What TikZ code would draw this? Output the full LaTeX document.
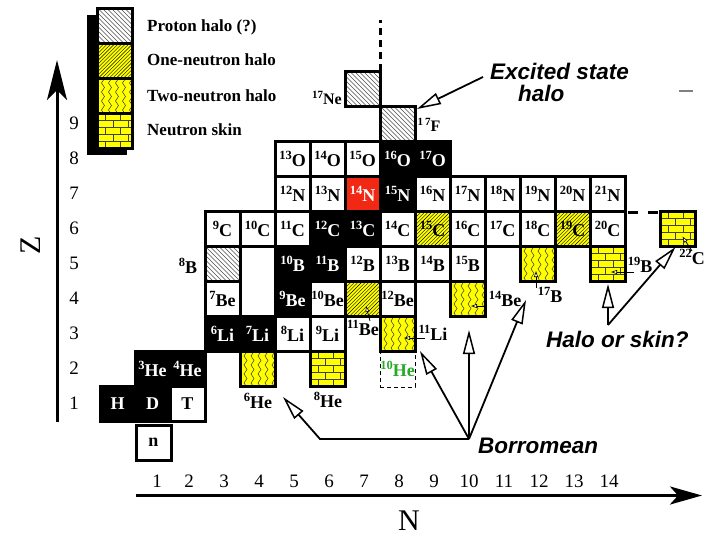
\documentclass[tikz,border=0pt]{standalone}
\usepackage{fontspec}
\setmainfont{Liberation Serif}
\setsansfont{Liberation Sans}
\usetikzlibrary{arrows.meta}

\definecolor{nred}{RGB}{240,40,20}
\definecolor{nyellow}{RGB}{255,255,0}
\definecolor{ngreen}{RGB}{40,170,40}

\newcommand\cellfont{\fontsize{18}{18}\selectfont\bfseries}
\newcommand\smallcellfont{\fontsize{16}{16}\selectfont\bfseries}
\newcommand\iso[2]{\raisebox{7pt}{\fontsize{12.5}{12.5}\selectfont #1}#2}
\newcommand\isosm[2]{\raisebox{6pt}{\fontsize{11}{11}\selectfont #1}#2}
\newcommand\calloutfont{\sffamily\bfseries\itshape\fontsize{22.5}{24}\selectfont}
% a nuclide box placed by neutron number N (#3) and proton number Z (#4)
\newcommand\nuc[5]{\node[#1] (#2) at ({117.5+35*#3},{438.5-35*#4}) {#5};}

\tikzset{
  nucbox/.style={draw=black, line width=3pt, minimum width=35pt, minimum height=35pt,
    inner sep=0pt, outer sep=0pt, fill=white, text=black, font=\cellfont},
  plain/.style={nucbox},
  stable/.style={nucbox, fill=black, text=white},
  redbox/.style={nucbox, fill=nred, text=white},
  phalo/.style={nucbox, path picture={
    \foreach \k in {-36,-31.5,...,36}
      \draw[black!70, line width=0.5pt]
        (path picture bounding box.north west) ++(\k,0) -- ++(36,36);}},
  onehalo/.style={nucbox, fill=nyellow, path picture={
    \foreach \k in {0,3.6,...,72}
      \draw[black, line width=0.4pt]
        (path picture bounding box.north west) ++(\k,0) -- ++(-36,36);}},
  twohalo/.style={nucbox, fill=nyellow, path picture={
    \foreach \i in {0,...,4}
      \draw[black!80, line width=0.5pt]
        (path picture bounding box.north west) ++({4+7*\i},-4)
        \foreach \k in {1,...,5}{ -- ++(3,4.5) -- ++(-3,4.5)};}},
  skin/.style={nucbox, fill=nyellow, path picture={
    \foreach \r in {1,...,4}
      \draw[black!75, line width=0.7pt] (path picture bounding box.north west) ++(0,7*\r) -- ++(36,0);
    \foreach \r in {0,2,4} \foreach \m in {8,23}
      \draw[black!75, line width=0.7pt] (path picture bounding box.north west) ++(\m,7*\r) -- ++(0,7);
    \foreach \r in {1,3} \foreach \m in {0.5,15.5,30.5}
      \draw[black!75, line width=0.7pt] (path picture bounding box.north west) ++(\m,7*\r) -- ++(0,7);}},
  outlabel/.style={inner sep=0pt, font=\cellfont},
  legendtext/.style={inner sep=0pt, font=\fontsize{17}{17}\selectfont\bfseries},
  axisnum/.style={inner sep=0pt, font=\fontsize{19}{19}\selectfont},
  axisline/.style={line width=3pt},
  callout/.style={inner sep=0pt, font=\calloutfont},
  bigarrow/.style={line width=1.8pt, line join=miter,
    -{Triangle[length=24pt, width=12pt, fill=white, line width=1.5pt]}},
  leader/.style={line width=0.8pt, -{Triangle[length=6pt, width=4pt, fill=white, line width=0.6pt]}},
  dashline/.style={line width=3pt},
}

\begin{document}
\begin{tikzpicture}[x=1pt, y=-1pt]
\useasboundingbox (0,0) rectangle (706,536);
\clip (0,0) rectangle (706,536);

% ---------- legend ----------
\fill (87,15) rectangle (127,155);
\node[phalo]   (lgp) at (115,25.5)  {};
\node[onehalo] (lg1) at (115,60.5)  {};
\node[twohalo] (lg2) at (115,95.5)  {};
\node[skin]    (lgs) at (115,130.5) {};
\node[legendtext, anchor=base west] (ltp) at (147,31)  {Proton halo (?)};
\node[legendtext, anchor=base west] (lt1) at (147,65)  {One-neutron halo};
\node[legendtext, anchor=base west] (lt2) at (147,101) {Two-neutron halo};
\node[legendtext, anchor=base west] (lts) at (147,135) {Neutron skin};

% ---------- axes ----------
\coordinate (zbot) at (57,422);
\coordinate (ztop) at (57,60);
\draw[axisline, -{Stealth[length=40pt, width=20pt, inset=10pt]}] (zbot) -- (ztop);
\coordinate (nleft) at (136,495.5);
\coordinate (nright) at (702,495.5);
\draw[axisline, -{Stealth[length=32pt, width=18pt, inset=8pt]}] (nleft) -- (nright);
\node[rotate=90, inner sep=0pt, font=\fontsize{30}{30}\selectfont] (zlab) at (31,245) {Z};
\node[inner sep=0pt, font=\fontsize{30}{30}\selectfont] (nlab) at (409,521) {N};
\foreach \i in {1,...,9}
  \node[axisnum] (zn\i) at (74,{438.5-35*\i}) {\i};
\node[axisnum] (nn1) at (157,481) {1};
\node[axisnum] (nn2) at (189,481) {2};
\foreach \i in {3,...,14}
  \node[axisnum] (nn\i) at ({119+35*\i},481) {\i};

% ---------- nuclide boxes ----------
% Z = 0, 1
\node[plain] (n) at (153.5,442.5) {n};
\nuc{stable}{H}{0}{1}{H}
\nuc{stable}{D}{1}{1}{D}
\nuc{plain}{T}{2}{1}{T}
% Z = 2
\nuc{stable}{He3}{1}{2}{\iso{3}{He}}
\nuc{stable}{He4}{2}{2}{\iso{4}{He}}
\nuc{twohalo}{He6}{4}{2}{}
\nuc{skin}{He8}{6}{2}{}
\node[draw, line width=1pt, dash pattern=on 4pt off 3pt, minimum width=35pt, minimum height=36pt,
  inner sep=0pt, text=ngreen, font=\cellfont] (He10) at (397.5,369) {\iso{10}{He}};
% Z = 3
\nuc{stable}{Li6}{3}{3}{\iso{6}{Li}}
\nuc{stable}{Li7}{4}{3}{\iso{7}{Li}}
\nuc{plain}{Li8}{5}{3}{\iso{8}{Li}}
\nuc{plain}{Li9}{6}{3}{\iso{9}{Li}}
\nuc{twohalo}{Li11}{8}{3}{}
% Z = 4, 5 (one open box spans both rows at N = 4)
\nuc{plain}{Be7}{3}{4}{\iso{7}{Be}}
\node[nucbox, minimum height=70pt] (gapBeB) at (257.5,281) {};
\nuc{stable}{Be9}{5}{4}{\iso{9}{Be}}
\nuc{plain}{Be10}{6}{4}{\iso{10}{Be}}
\nuc{onehalo}{Be11}{7}{4}{}
\nuc{plain}{Be12}{8}{4}{\iso{12}{Be}}
\nuc{twohalo}{Be14}{10}{4}{}
\nuc{phalo}{B8}{3}{5}{}
\nuc{stable}{B10}{5}{5}{\iso{10}{B}}
\nuc{stable}{B11}{6}{5}{\iso{11}{B}}
\nuc{plain}{B12}{7}{5}{\iso{12}{B}}
\nuc{plain}{B13}{8}{5}{\iso{13}{B}}
\nuc{plain}{B14}{9}{5}{\iso{14}{B}}
\nuc{plain}{B15}{10}{5}{\iso{15}{B}}
\nuc{twohalo}{B17}{12}{5}{}
\nuc{skin}{B19}{14}{5}{}
% Z = 6
\nuc{plain}{C9}{3}{6}{\iso{9}{C}}
\nuc{plain}{C10}{4}{6}{\iso{10}{C}}
\nuc{plain}{C11}{5}{6}{\iso{11}{C}}
\nuc{stable}{C12}{6}{6}{\iso{12}{C}}
\nuc{stable}{C13}{7}{6}{\iso{13}{C}}
\nuc{plain}{C14}{8}{6}{\iso{14}{C}}
\nuc{onehalo}{C15}{9}{6}{\iso{15}{C}}
\nuc{plain}{C16}{10}{6}{\iso{16}{C}}
\nuc{plain}{C17}{11}{6}{\iso{17}{C}}
\nuc{plain}{C18}{12}{6}{\iso{18}{C}}
\nuc{onehalo}{C19}{13}{6}{\iso{19}{C}}
\nuc{plain}{C20}{14}{6}{\iso{20}{C}}
\nuc{skin}{C22}{16}{6}{}
% Z = 7
\nuc{plain}{N12}{5}{7}{\iso{12}{N}}
\nuc{plain}{N13}{6}{7}{\iso{13}{N}}
\nuc{redbox}{N14}{7}{7}{\iso{14}{N}}
\nuc{stable}{N15}{8}{7}{\iso{15}{N}}
\nuc{plain}{N16}{9}{7}{\iso{16}{N}}
\nuc{plain}{N17}{10}{7}{\iso{17}{N}}
\nuc{plain}{N18}{11}{7}{\iso{18}{N}}
\nuc{plain}{N19}{12}{7}{\iso{19}{N}}
\nuc{plain}{N20}{13}{7}{\iso{20}{N}}
\nuc{plain}{N21}{14}{7}{\iso{21}{N}}
% Z = 8
\nuc{plain}{O13}{5}{8}{\iso{13}{O}}
\nuc{plain}{O14}{6}{8}{\iso{14}{O}}
\nuc{plain}{O15}{7}{8}{\iso{15}{O}}
\nuc{stable}{O16}{8}{8}{\iso{16}{O}}
\nuc{stable}{O17}{9}{8}{\iso{17}{O}}
% Z = 9, 10
\nuc{phalo}{F17}{8}{9}{}
\nuc{phalo}{Ne17}{7}{10}{}

% ---------- drip-line continuations ----------
\coordinate (dripTop) at (380,20);
\draw[dashline, dash pattern=on 7pt off 5pt] (Ne17.north east) -- (dripTop);
\draw[dashline, dash pattern=on 10pt off 10pt, dash phase=-3pt] ([yshift=-1pt]C20.north east) -- ([yshift=-1pt]C22.north west);
\draw[gray, line width=1.5pt] (679,91) -- (693,91);

% ---------- labels beside boxes ----------
\node[outlabel] (lHe6) at (258,401) {\iso{6}{He}};
\node[outlabel] (lHe8) at (328,400) {\iso{8}{He}};
\node[outlabel] (lLi11) at (433,333) {\iso{11}{Li}};
\node[outlabel] (lBe11) at (363,328) {\iso{11}{Be}};
\node[outlabel] (lBe14) at (505,299) {\iso{14}{Be}};
\node[outlabel] (lB17) at (550,295) {\iso{17}{B}};
\node[outlabel] (lB19) at (640,265) {\iso{19}{B}};
\node[outlabel] (lC22) at (692,257) {\iso{22}{C}};
\node[outlabel] (lB8) at (188,266) {\iso{8}{B}};
\node[inner sep=0pt, font=\smallcellfont] (lF17) at (429,125) {\isosm{1\,7}{F}};
\node[inner sep=0pt, font=\smallcellfont] (lNe17) at (327,98) {\isosm{17}{Ne}};

% small pointers from labels into their boxes
\draw[leader] ([shift={(7,-7)}]lBe11.center) -- ([shift={(3.5,7.5)}]Be11.center);
\draw[leader] ([shift={(-8,5)}]lLi11.center) -- ([shift={(6.5,4.5)}]Li11.center);
\draw[leader] ([shift={(-18,7)}]lBe14.center) -- ([shift={(3.5,7.5)}]Be14.center);
\draw[leader] ([shift={(-14,-7)}]lB17.center) -- ([shift={(-1.5,7.5)}]B17.center);
\draw[leader] ([shift={(-6,7)}]lB19.center) -- ([shift={(3.5,8.5)}]B19.center);
\draw[leader] ([shift={(0,-6)}]lC22.center) -- ([shift={(5,8)}]C22.center);

% ---------- callouts ----------
\node[callout, anchor=base west] (exc) at (490,79) {Excited state};
\node[callout, anchor=base west] (exc2) at (518,101) {halo};
\draw[bigarrow] ([shift={(-7,6)}]exc.west) -- ([shift={(2,3)}]F17.north east);

\node[callout, anchor=base west] (bor) at (478,453) {Borromean};
\coordinate (bhub) at (469,439);
\coordinate (bbend) at (320,439);
\coordinate (tipHeSix) at (283,397);
\coordinate (tipBeDiag) at (526,300);
\draw[bigarrow] (bhub) -- (bbend) -- (tipHeSix);
\draw[bigarrow] (bhub) -- ([shift={(5,0)}]Li11.south east);
\draw[bigarrow] (bhub) -- ([shift={(1.5,14)}]Be14.south);
\draw[bigarrow] (bhub) -- (tipBeDiag);

\node[callout, anchor=base west] (hos) at (546,347) {Halo or skin?};
\coordinate (shub) at (608,325);
\draw[bigarrow] (shub) -- ([shift={(0.5,3)}]B19.south);
\draw[bigarrow] (shub) -- ([shift={(-2,1)}]C22.south);
\end{tikzpicture}
\end{document}
